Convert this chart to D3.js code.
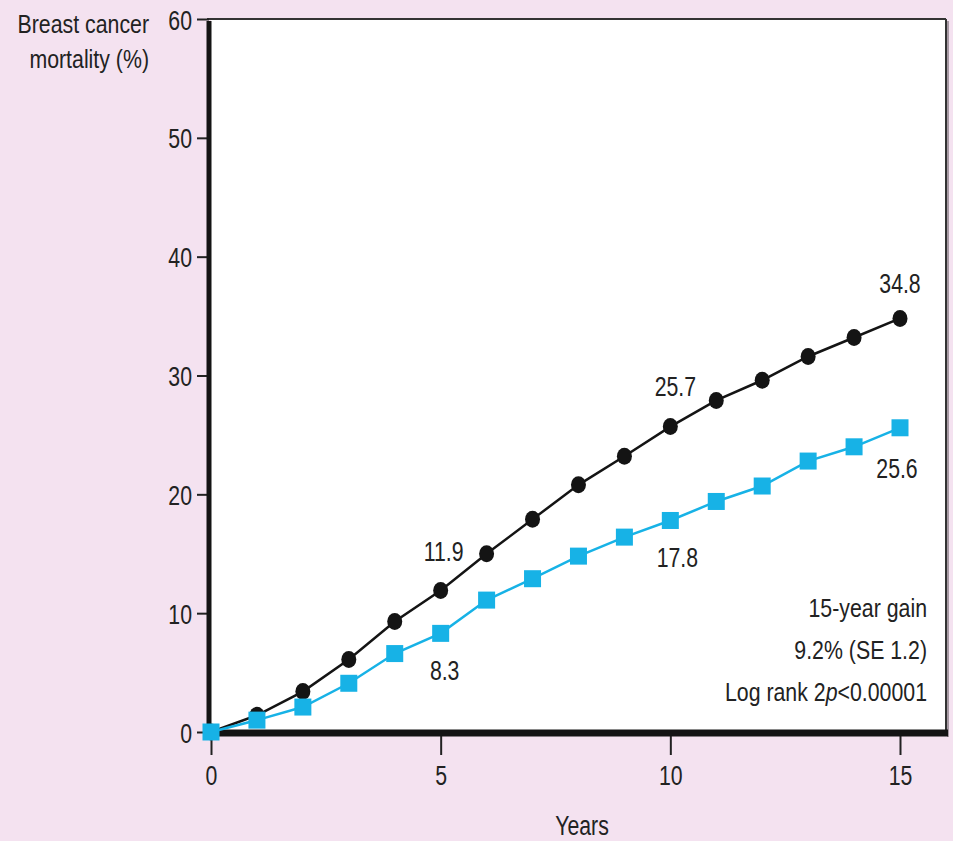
<!DOCTYPE html>
<html>
<head>
<meta charset="utf-8">
<script src="https://cdn.jsdelivr.net/npm/d3@7/dist/d3.min.js"></script>
<style>
  html, body { margin: 0; padding: 0; background: #f4e2f0; }
  svg { display: block; }
  text { font-family: "Liberation Sans", Arial, sans-serif; fill: #222; }
</style>
</head>
<body>
<svg id="chart" width="953" height="841"></svg>
<script>
// Cumulative breast cancer mortality by year of follow-up
const years = [0, 1, 2, 3, 4, 5, 6, 7, 8, 9, 10, 11, 12, 13, 14, 15];
const controlMortality = [0, 1.4, 3.4, 6.1, 9.3, 11.9, 15.0, 17.9, 20.8, 23.2, 25.7, 27.9, 29.6, 31.6, 33.2, 34.8];
const treatedMortality = [0, 1.0, 2.1, 4.1, 6.6, 8.3, 11.1, 12.9, 14.8, 16.4, 17.8, 19.4, 20.7, 22.8, 24.0, 25.6];
const xTicks = [0, 5, 10, 15];
const yTicks = [0, 10, 20, 30, 40, 50, 60];

// Values stated on the chart: [year, value]
const controlLabels = [[5, 11.9], [10, 25.7], [15, 34.8]];
const treatedLabels = [[5, 8.3], [10, 17.8], [15, 25.6]];
const noteLines = ["15-year gain", "9.2% (SE 1.2)", "Log rank 2p<0.00001"];

const svg = d3.select("#chart");
const x = d3.scaleLinear().domain([0, 15]).range([211, 900]);
const y = d3.scaleLinear().domain([0, 60]).range([732, 19]);

const xRight = 946;
const black = "#141414";
const cyan = "#17b2e6";

// condensed lettering: a regular face squeezed horizontally
const NUM_SIZE = 28, NUM_SX = 0.76;
const TXT_SIZE = 26, TXT_SX = 0.82;

function label(parent, px, py, str, size, sx, anchor) {
  return parent.append("text")
    .attr("transform", `translate(${px},${py}) scale(${sx},1)`)
    .attr("font-size", size)
    .attr("text-anchor", anchor)
    .text(str);
}

// plotting panel
svg.append("rect")
  .attr("x", x(0)).attr("y", y(60))
  .attr("width", xRight - x(0)).attr("height", y(0) - y(60))
  .attr("fill", "#fff");

// frame: thin top and right edges with a soft shadow on the right
svg.append("line").attr("x1", xRight + 2).attr("x2", xRight + 2)
  .attr("y1", y(60) + 2).attr("y2", y(0) + 5)
  .attr("stroke", "#a79aa4").attr("stroke-width", 2);
svg.append("line").attr("x1", x(0) - 4).attr("x2", xRight)
  .attr("y1", y(60)).attr("y2", y(60))
  .attr("stroke", "#333").attr("stroke-width", 2);
svg.append("line").attr("x1", xRight).attr("x2", xRight)
  .attr("y1", y(60)).attr("y2", y(0))
  .attr("stroke", "#333").attr("stroke-width", 2);

// y axis
const yAxis = svg.append("g")
  .attr("transform", `translate(${x(0) - 2},0)`)
  .call(d3.axisLeft(y).tickValues(yTicks).tickSize(12).tickPadding(5));
yAxis.select(".domain").remove();
yAxis.selectAll(".tick line").attr("stroke", "#222").attr("stroke-width", 2);
yAxis.selectAll(".tick text")
  .attr("font-size", NUM_SIZE).attr("fill", "#222")
  .attr("font-family", null)
  .attr("dy", "0.36em")
  .attr("x", function () { return +d3.select(this).attr("x") / NUM_SX; })
  .attr("transform", `scale(${NUM_SX},1)`);

// x axis
const xAxis = svg.append("g")
  .attr("transform", `translate(0,${y(0) + 4})`)
  .call(d3.axisBottom(x).tickValues(xTicks).tickSize(19).tickPadding(10));
xAxis.select(".domain").remove();
xAxis.selectAll(".tick line").attr("stroke", "#222").attr("stroke-width", 2);
xAxis.selectAll(".tick text")
  .attr("font-size", NUM_SIZE).attr("fill", "#222")
  .attr("font-family", null)
  .attr("dy", "0.72em")
  .attr("transform", `scale(${NUM_SX},1)`);

// heavy axis lines
svg.append("line").attr("x1", x(0) - 2).attr("x2", x(0) - 2)
  .attr("y1", y(60) + 2).attr("y2", y(0) + 4)
  .attr("stroke", "#141414").attr("stroke-width", 5);
svg.append("line").attr("x1", x(0) - 4).attr("x2", xRight + 2)
  .attr("y1", y(0) + 1).attr("y2", y(0) + 1)
  .attr("stroke", "#141414").attr("stroke-width", 7);

// axis titles
label(svg, 149, 33, "Breast cancer", TXT_SIZE, TXT_SX, "end");
label(svg, 149, 68, "mortality (%)", TXT_SIZE, TXT_SX, "end");
label(svg, 582, 835, "Years", NUM_SIZE, NUM_SX, "middle");

// series
const line = d3.line().x(d => x(d[0])).y(d => y(d[1]));
const controlPts = years.map((t, i) => [t, controlMortality[i]]);
const treatedPts = years.map((t, i) => [t, treatedMortality[i]]);

svg.append("path").datum(controlPts).attr("d", line)
  .attr("fill", "none").attr("stroke", black).attr("stroke-width", 2.5);
svg.append("g").selectAll("ellipse").data(controlPts).join("ellipse")
  .attr("cx", d => x(d[0])).attr("cy", d => y(d[1]))
  .attr("rx", 7.5).attr("ry", 8.5).attr("fill", black);

svg.append("path").datum(treatedPts).attr("d", line)
  .attr("fill", "none").attr("stroke", cyan).attr("stroke-width", 2.5);
const sq = 17;
svg.append("g").selectAll("rect").data(treatedPts).join("rect")
  .attr("x", d => x(d[0]) - sq / 2).attr("y", d => y(d[1]) - sq / 2)
  .attr("width", sq).attr("height", sq).attr("fill", cyan);

// value labels: above the control curve, below the treated curve
const lbl = svg.append("g");
const ctrlOffset = { 5: [3, -30], 10: [5, -31], 15: [0, -25] };
controlLabels.forEach(([t, v]) => {
  const [dx, dy] = ctrlOffset[t];
  label(lbl, x(t) + dx, y(v) + dy, v.toFixed(1), NUM_SIZE, NUM_SX, "middle");
});
const trtOffset = { 5: [4, 47], 10: [7, 47], 15: [-3, 50] };
treatedLabels.forEach(([t, v]) => {
  const [dx, dy] = trtOffset[t];
  label(lbl, x(t) + dx, y(v) + dy, v.toFixed(1), NUM_SIZE, NUM_SX, "middle");
});

// summary note
label(svg, 927, 617, noteLines[0], TXT_SIZE, TXT_SX, "end");
label(svg, 927, 659, noteLines[1], TXT_SIZE, TXT_SX, "end");
const last = label(svg, 927, 701, "", TXT_SIZE, TXT_SX, "end");
last.append("tspan").text("Log rank 2");
last.append("tspan").attr("font-style", "italic").text("p");
last.append("tspan").text("<0.00001");
</script>
</body>
</html>
